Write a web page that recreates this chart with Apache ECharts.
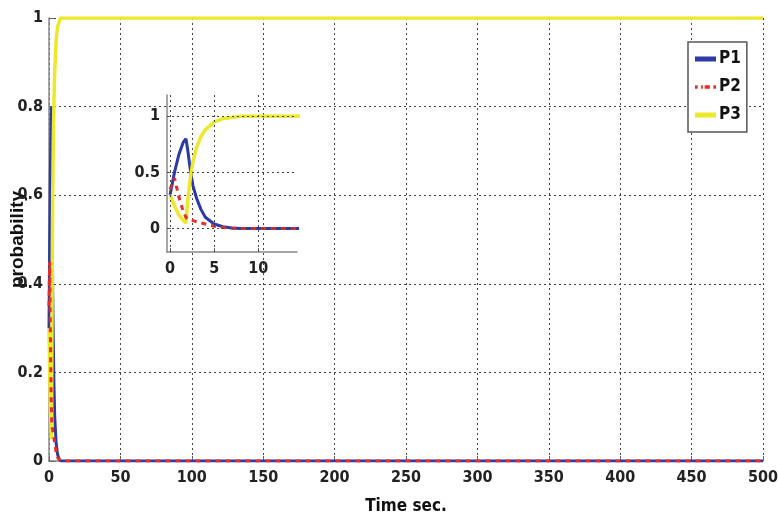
<!DOCTYPE html>
<html>
<head>
<meta charset="utf-8">
<script src="https://cdn.jsdelivr.net/npm/echarts@6/dist/echarts.min.js"></script>
<style>
  html, body { margin: 0; padding: 0; background: #fff; }
  #chart { width: 778px; height: 521px; }
</style>
</head>
<body>
<div id="chart"></div>
<script>
// time points (sec) and the three probabilities
const timeSec = [0, 0.5, 1, 1.5, 1.8, 2, 2.3, 2.6, 3, 3.5, 4, 5, 6, 7, 8, 10, 12, 15, 20, 40, 100, 200, 300, 400, 500];
const p1 = [0.3, 0.5, 0.66, 0.77, 0.8, 0.7, 0.52, 0.38, 0.27, 0.17, 0.1, 0.04, 0.015, 0.005, 0, 0, 0, 0, 0, 0, 0, 0, 0, 0, 0];
const p2 = [0.35, 0.45, 0.28, 0.15, 0.1, 0.08, 0.075, 0.07, 0.06, 0.05, 0.04, 0.02, 0.008, 0.003, 0, 0, 0, 0, 0, 0, 0, 0, 0, 0, 0];
const p3 = [0.3, 0.2, 0.12, 0.07, 0.05, 0.25, 0.45, 0.6, 0.72, 0.82, 0.88, 0.95, 0.98, 0.99, 1, 1, 1, 1, 1, 1, 1, 1, 1, 1, 1];

const seriesNames = ["P1", "P2", "P3"];
const mainXTicks = { min: 0, max: 500, interval: 50 };
const mainYTicks = { min: 0, max: 1, interval: 0.2 };
const insetXTicks = [0, 5, 10];
const insetYTicks = [0, 0.5, 1];

const FONT = "'Liberation Sans Narrow', 'DejaVu Sans Condensed', 'Liberation Sans', sans-serif";
const BLUE = "#2b3aa6";
const RED = "#ec2b25";
const YELLOW = "#ece82a";

const pairs = (ys) => timeSec.map((t, i) => [t, ys[i]]);
const dotted = { type: [2, 3], color: "#444", width: 1 };
const tickLabel = { color: "#222", fontFamily: FONT, fontWeight: "bold", fontSize: 16 };

function lines(gridIdx) {
  return [
    { name: "P1", data: pairs(p1), color: BLUE, lineStyle: { color: BLUE, width: 3 } },
    { name: "P2", data: pairs(p2), color: RED, lineStyle: { color: RED, width: 3, type: [5, 5] } },
    { name: "P3", data: pairs(p3), color: YELLOW, lineStyle: { color: YELLOW, width: 3.5 } }
  ].map(s => Object.assign(s, {
    type: "line",
    xAxisIndex: gridIdx,
    yAxisIndex: gridIdx,
    symbol: "none",
    clip: true,
    z: s.name === "P2" ? 4 : 3
  }));
}

const series = lines(0).concat(lines(1));
// dotted grid of the inset, only at its labelled values
series[3].markLine = {
  silent: true,
  symbol: "none",
  label: { show: false },
  lineStyle: dotted,
  data: insetXTicks.map(v => ({ xAxis: v })).concat(insetYTicks.map(v => ({ yAxis: v })))
};

const chart = echarts.init(document.getElementById("chart"));
chart.setOption({
  animation: false,
  backgroundColor: "#fff",
  grid: [
    { left: 49, right: 15, top: 18, bottom: 60, outerBoundsMode: "none", containLabel: false },
    { left: 167, top: 95, width: 130, height: 157, outerBoundsMode: "none", containLabel: false }
  ],
  legend: {
    data: [
      { name: "P1", icon: "rect" },
      { name: "P2", icon: "path://M0,0h3v4h-3zM7,0h2v4h-2zM11,0h6v4h-6zM21,0h3v4h-3z" },
      { name: "P3", icon: "rect" }
    ],
    orient: "vertical",
    left: 688,
    top: 42,
    padding: [7, 6, 7, 7],
    itemGap: 8,
    itemWidth: 21,
    itemHeight: 5,
    backgroundColor: "#fff",
    borderColor: "#555",
    borderWidth: 1.5,
    textStyle: { color: "#111", fontFamily: FONT, fontWeight: "bold", fontSize: 17, lineHeight: 20, padding: [0, 0, 0, -2] }
  },
  xAxis: [
    {
      gridIndex: 0, type: "value",
      min: mainXTicks.min, max: mainXTicks.max, interval: mainXTicks.interval,
      name: "Time sec.", nameLocation: "middle", nameGap: 37, nameMoveOverlap: false,
      nameTextStyle: { color: "#111", fontFamily: FONT, fontWeight: "bold", fontSize: 17 },
      axisLine: { lineStyle: { color: "#888", width: 1.5 } },
      axisTick: { inside: true, length: 5, lineStyle: { color: "#666" } },
      axisLabel: Object.assign({ margin: 9 }, tickLabel),
      splitLine: { show: true, lineStyle: dotted }
    },
    {
      gridIndex: 1, type: "value",
      min: -0.35, max: 14.4,
      axisLine: { onZero: false, lineStyle: { color: "#888", width: 1.5 } },
      axisTick: { inside: true, length: 4, customValues: insetXTicks, lineStyle: { color: "#666" } },
      axisLabel: Object.assign({ margin: 9, customValues: insetXTicks }, tickLabel),
      splitLine: { show: false }
    }
  ],
  yAxis: [
    {
      gridIndex: 0, type: "value",
      min: mainYTicks.min, max: mainYTicks.max, interval: mainYTicks.interval,
      name: "probability", nameLocation: "middle", nameGap: 22, nameMoveOverlap: false,
      nameTextStyle: { color: "#111", fontFamily: "'Liberation Sans', sans-serif", fontWeight: "bold", fontSize: 19 },
      axisLine: { lineStyle: { color: "#888", width: 1.5 } },
      axisTick: { inside: true, length: 5, lineStyle: { color: "#666" } },
      axisLabel: Object.assign({ margin: 6, formatter: v => String(+v.toFixed(1)) }, tickLabel),
      splitLine: { show: true, lineStyle: dotted }
    },
    {
      gridIndex: 1, type: "value",
      min: -0.21, max: 1.19,
      axisLine: { onZero: false, lineStyle: { color: "#888", width: 1.5 } },
      axisTick: { inside: true, length: 4, customValues: insetYTicks, lineStyle: { color: "#666" } },
      axisLabel: Object.assign({ margin: 7, customValues: insetYTicks }, tickLabel),
      splitLine: { show: false }
    }
  ],
  series: series
});
</script>
</body>
</html>
